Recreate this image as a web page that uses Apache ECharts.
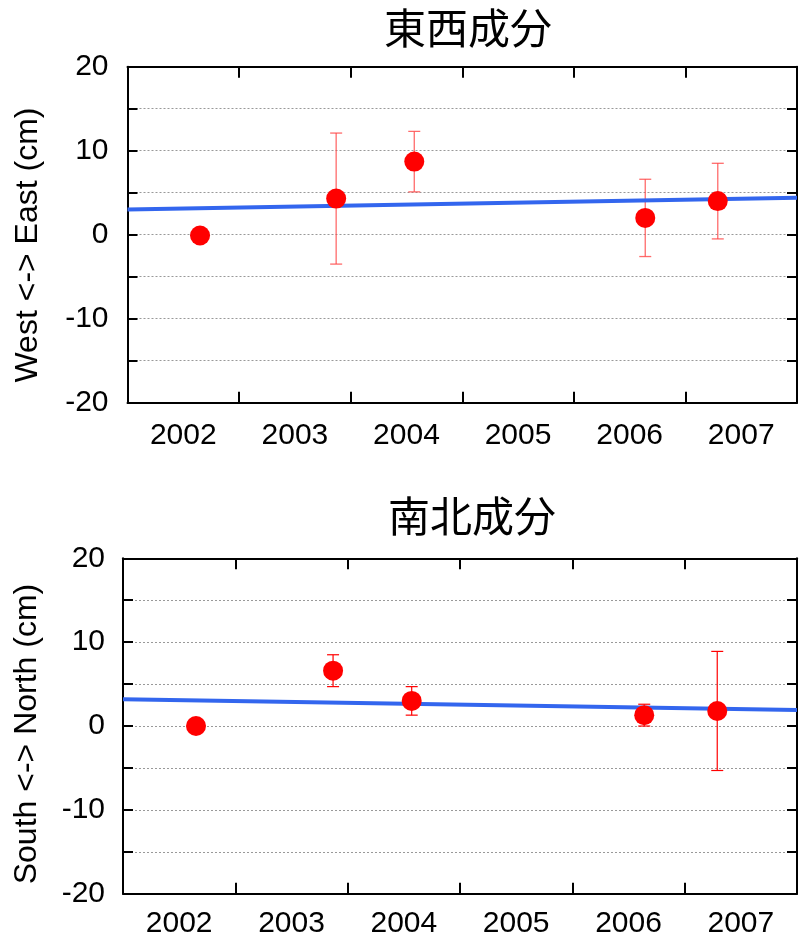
<!DOCTYPE html>
<html>
<head>
<meta charset="utf-8">
<script src="https://cdn.jsdelivr.net/npm/echarts@6/dist/echarts.min.js"></script>
<style>html,body{margin:0;padding:0;background:#fff}#c{width:800px;height:939px}</style>
</head>
<body>
<div id="c"></div>
<script>
// ---- data ----
const obsYears = [2002.65, 2003.87, 2004.57, 2006.64, 2007.29];
const ewValues = [-0.1, 4.3, 8.7, 2.0, 4.0];
const ewErrors = [0, 7.8, 3.6, 4.6, 4.5];
const nsValues = [0.0, 6.6, 3.0, 1.3, 1.8];
const nsErrors = [0, 1.9, 1.7, 1.3, 7.1];
const trendYears = [2002, 2008];
const ewTrend = [3.0, 4.4];
const nsTrend = [3.2, 1.9];
const yearLabels = ['2002', '2003', '2004', '2005', '2006', '2007'];
const titles = ['東西成分', '南北成分'];
const yNames = ['West <-> East (cm)', 'South <-> North (cm)'];

const chart = echarts.init(document.getElementById('c'), null, {renderer: 'canvas'});
const FONT = 'Liberation Sans, Arial, sans-serif';

const grids = [
  {left: 127.5, top: 66.7, width: 675, height: 336},
  {left: 123, top: 558.3, width: 674.5, height: 335.5}
];
const xLabelMargins = [18, 15];
const yLabelMargins = [19, 18];

const xAxis = [], yAxis = [];
grids.forEach((g, gi) => {
  xAxis.push({gridIndex: gi, type: 'value', min: 2002, max: 2008, interval: 1, position: 'bottom',
    axisLine: {show: true, onZero: false, lineStyle: {color: '#000', width: 2}},
    axisTick: {show: true, inside: true, length: 11, lineStyle: {color: '#000', width: 2}},
    axisLabel: {show: false}, splitLine: {show: false}});
  xAxis.push({gridIndex: gi, type: 'value', min: 2002, max: 2008, interval: 0.5, position: 'bottom',
    axisLine: {show: false}, axisTick: {show: false}, splitLine: {show: false},
    axisLabel: {show: true, margin: xLabelMargins[gi], fontSize: 30, color: '#000', fontFamily: FONT,
      formatter: v => {
        const i = Math.floor(v - 2002);
        return (Math.abs(v - Math.floor(v) - 0.5) < 1e-6 && yearLabels[i]) ? yearLabels[i] : '';
      }}});
  xAxis.push({gridIndex: gi, type: 'value', min: 2002, max: 2008, interval: 1, position: 'top',
    axisLine: {show: true, onZero: false, lineStyle: {color: '#000', width: 2}},
    axisTick: {show: true, inside: true, length: 11, lineStyle: {color: '#000', width: 2}},
    axisLabel: {show: false}, splitLine: {show: false}});
  yAxis.push({gridIndex: gi, type: 'value', min: -20, max: 20, interval: 5, position: 'left',
    axisLine: {show: true, onZero: false, lineStyle: {color: '#000', width: 2}},
    axisTick: {show: true, inside: true, length: 10, lineStyle: {color: '#000', width: 2}},
    axisLabel: {show: true, margin: yLabelMargins[gi], fontSize: 30, color: '#000', fontFamily: FONT,
      formatter: v => (v % 10 === 0 ? String(v) : '')},
    splitLine: {show: true, lineStyle: {color: '#999', width: 1, type: [2, 2]}}});
  yAxis.push({gridIndex: gi, type: 'value', min: -20, max: 20, interval: 5, position: 'right',
    axisLine: {show: true, onZero: false, lineStyle: {color: '#000', width: 2}},
    axisTick: {show: true, inside: true, length: 10, lineStyle: {color: '#000', width: 2}},
    axisLabel: {show: false}, splitLine: {show: false}});
});

function errSeries(gi, vals, errs, color, lw) {
  return {
    type: 'custom', xAxisIndex: gi * 3, yAxisIndex: gi * 2, z: 2,
    data: obsYears.map((x, i) => [x, vals[i], errs[i]]),
    renderItem: (params, api) => {
      const x = api.value(0), y = api.value(1), e = api.value(2);
      if (!e) return null;
      const t = api.coord([x, y + e]), b = api.coord([x, y - e]);
      const w = 6;
      const st = {stroke: color, lineWidth: lw};
      return {type: 'group', children: [
        {type: 'line', shape: {x1: t[0], y1: t[1], x2: b[0], y2: b[1]}, style: st},
        {type: 'line', shape: {x1: t[0] - w, y1: t[1], x2: t[0] + w, y2: t[1]}, style: st},
        {type: 'line', shape: {x1: b[0] - w, y1: b[1], x2: b[0] + w, y2: b[1]}, style: st}
      ]};
    }
  };
}
function trendSeries(gi, tr) {
  return {type: 'line', xAxisIndex: gi * 3, yAxisIndex: gi * 2, z: 3, symbol: 'none',
    data: trendYears.map((x, i) => [x, tr[i]]),
    lineStyle: {color: '#3366ee', width: 4}};
}
function ptSeries(gi, vals) {
  return {type: 'scatter', xAxisIndex: gi * 3, yAxisIndex: gi * 2, z: 4, symbol: 'circle', symbolSize: 20,
    data: obsYears.map((x, i) => [x, vals[i]]), itemStyle: {color: '#ff0000', opacity: 1}};
}

const series = [
  errSeries(0, ewValues, ewErrors, 'rgba(255,70,70,0.8)', 1.3),
  trendSeries(0, ewTrend),
  ptSeries(0, ewValues),
  errSeries(1, nsValues, nsErrors, '#ff0000', 1.2),
  trendSeries(1, nsTrend),
  ptSeries(1, nsValues)
];

const graphic = [
  {type: 'text', x: 468, y: 28, style: {text: titles[0], font: '42px "Noto Sans CJK JP"', fill: '#000', textAlign: 'center', textVerticalAlign: 'middle'}},
  {type: 'text', x: 472, y: 516, style: {text: titles[1], font: '42px "Noto Sans CJK JP"', fill: '#000', textAlign: 'center', textVerticalAlign: 'middle'}},
  {type: 'text', x: 28, y: 245, rotation: Math.PI / 2, style: {text: yNames[0], font: '32px "Liberation Sans"', fill: '#000', textAlign: 'center', textVerticalAlign: 'middle'}},
  {type: 'text', x: 27, y: 734, rotation: Math.PI / 2, style: {text: yNames[1], font: '32px "Liberation Sans"', fill: '#000', textAlign: 'center', textVerticalAlign: 'middle'}}
];

chart.setOption({
  animation: false,
  backgroundColor: '#fff',
  grid: grids,
  xAxis: xAxis,
  yAxis: yAxis,
  series: series,
  graphic: graphic
});
</script>
</body>
</html>
